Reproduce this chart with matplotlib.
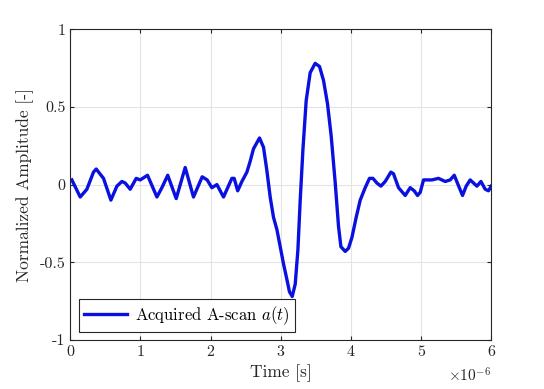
import matplotlib
matplotlib.use("Agg")
import matplotlib.pyplot as plt
import numpy as np

plt.rcParams["font.family"] = "serif"
plt.rcParams["font.serif"] = ["cmr10"]
plt.rcParams["mathtext.fontset"] = "cm"
plt.rcParams["axes.formatter.use_mathtext"] = True
plt.rcParams["axes.unicode_minus"] = False

# traced A-scan, time in microseconds
t_us = [0.024, 0.143, 0.238, 0.332, 0.371, 0.475, 0.580, 0.666, 0.737, 0.784,
        0.855, 0.941, 0.998, 1.102, 1.236, 1.307, 1.390, 1.511, 1.639, 1.757,
        1.881, 1.952, 2.019, 2.091, 2.185, 2.304, 2.337, 2.387, 2.447, 2.518,
        2.565, 2.612, 2.698, 2.755, 2.803, 2.850, 2.897, 2.946, 2.993, 3.040,
        3.088, 3.125, 3.164, 3.207, 3.245, 3.278, 3.316, 3.363, 3.420, 3.491,
        3.553, 3.610, 3.667, 3.720, 3.777, 3.824, 3.858, 3.919, 3.966, 4.015,
        4.076, 4.133, 4.204, 4.265, 4.314, 4.371, 4.428, 4.489, 4.570, 4.607,
        4.679, 4.774, 4.845, 4.902, 4.950, 4.988, 5.035, 5.106, 5.155, 5.249,
        5.344, 5.415, 5.473, 5.536, 5.591, 5.643, 5.700, 5.748, 5.796, 5.853,
        5.914, 5.961, 6.000]
amp = [0.03, -0.08, -0.03, 0.08, 0.10, 0.04, -0.10, -0.01, 0.02, 0.01,
       -0.03, 0.04, 0.03, 0.06, -0.08, -0.02, 0.06, -0.09, 0.11, -0.08,
       0.05, 0.03, -0.02, 0.00, -0.08, 0.04, 0.04, -0.04, 0.02, 0.08,
       0.15, 0.23, 0.30, 0.24, 0.09, -0.08, -0.21, -0.29, -0.40, -0.51,
       -0.61, -0.69, -0.72, -0.64, -0.42, -0.10, 0.22, 0.54, 0.72, 0.78,
       0.76, 0.67, 0.52, 0.31, 0.01, -0.27, -0.40, -0.43, -0.41, -0.34,
       -0.21, -0.10, -0.02, 0.04, 0.04, 0.01, -0.01, 0.02, 0.08, 0.07,
       -0.02, -0.07, -0.02, -0.04, -0.07, -0.05, 0.03, 0.03, 0.03, 0.04,
       0.02, 0.03, 0.06, -0.01, -0.07, -0.01, 0.03, 0.01, -0.01, 0.02,
       -0.03, -0.04, -0.01]

x_ticks = [0, 1, 2, 3, 4, 5, 6]
y_ticks = [-1, -0.5, 0, 0.5, 1]
y_labels = ["-1", "-0.5", "0", "0.5", "1"]

t = np.array(t_us) * 1e-6
a = np.array(amp)

fig = plt.figure(figsize=(5.44, 3.89), dpi=100)
ax = fig.add_axes([0.129, 0.126, 0.774, 0.799])
ax.plot(t, a, color="#0a10e0", lw=2.4, label=r"Acquired A-scan $a(t)$")

ax.set_xlim(0, 6e-6)
ax.set_ylim(-1, 1)
ax.set_xticks([v * 1e-6 for v in x_ticks])
ax.set_xticklabels([str(v) for v in x_ticks])
ax.set_yticks(y_ticks)
ax.set_yticklabels(y_labels)
ax.text(1.0, -0.085, r"$\times10^{-6}$", transform=ax.transAxes,
        ha="right", va="top", fontsize=11, color="#262626")

ax.grid(True, color="#e3e3e3", lw=0.8)
ax.set_axisbelow(True)
ax.tick_params(direction="in", length=3, labelsize=11.5, colors="#262626",
               top=True, right=True, labeltop=False, labelright=False)
for s in ax.spines.values():
    s.set_color("#262626")
    s.set_linewidth(0.8)

ax.set_xlabel("Time [s]", fontsize=12.5, color="#262626", labelpad=4)
ax.set_ylabel("Normalized Amplitude [-]", fontsize=12.5, color="#262626")

leg = ax.legend(loc="lower left", fontsize=12, handlelength=2.6,
                borderaxespad=0.5, fancybox=False, framealpha=1,
                edgecolor="#262626", borderpad=0.3, handletextpad=0.5)
leg.get_frame().set_linewidth(0.8)

fig.savefig("out.png", dpi=100)
